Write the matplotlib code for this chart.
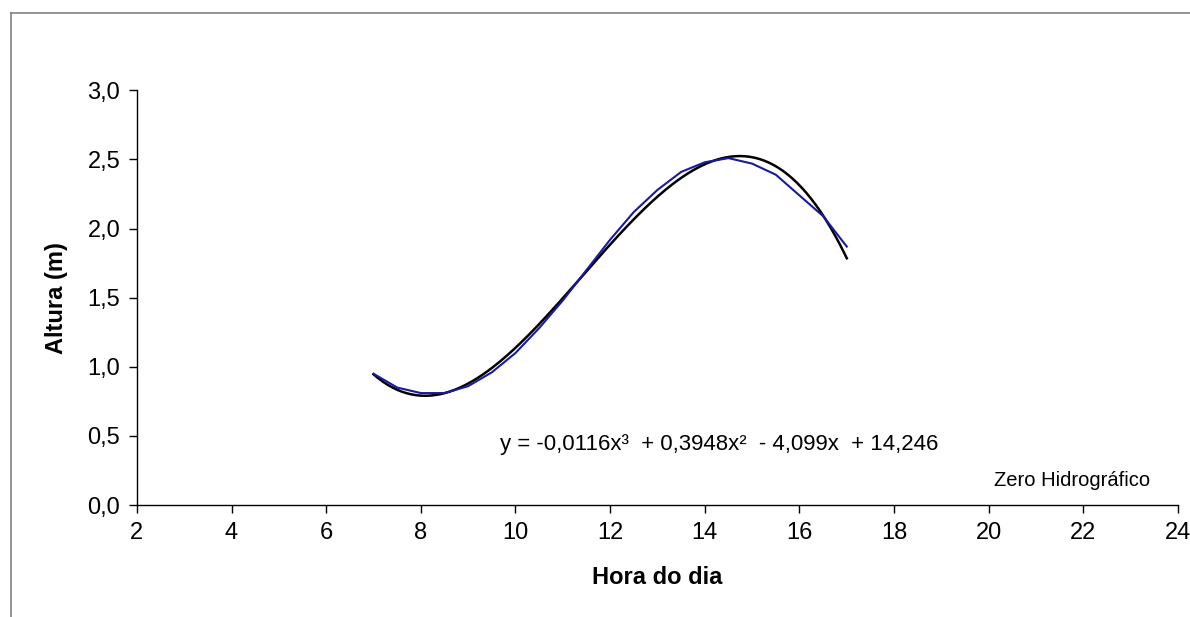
import numpy as np
import matplotlib
matplotlib.use("Agg")
import matplotlib.pyplot as plt
from matplotlib.lines import Line2D

# Dados observados (hora, altura)
hora = [7, 7.5, 8, 8.5, 9, 9.5, 10, 10.5, 11, 11.5, 12, 12.5, 13, 13.5, 14, 14.5, 15, 15.5, 16, 16.5, 17]
altura = [0.95, 0.85, 0.81, 0.81, 0.86, 0.96, 1.10, 1.28, 1.48, 1.70, 1.92, 2.12, 2.28, 2.41, 2.48, 2.51,
          2.47, 2.39, 2.24, 2.09, 1.87]

x_ticks = [2, 4, 6, 8, 10, 12, 14, 16, 18, 20, 22, 24]
y_ticks = [0.0, 0.5, 1.0, 1.5, 2.0, 2.5, 3.0]

equacao = "y = -0,0116x³  + 0,3948x²  - 4,099x  + 14,246"

plt.rcParams["font.family"] = ["Liberation Sans", "DejaVu Sans"]

fig = plt.figure(figsize=(11.9, 6.17), dpi=100)
ax = fig.add_axes([0.115, 0.1815, 0.875, 0.672])

# linha de tendência polinomial (3a ordem), como no Excel
coef = np.polyfit(hora, altura, 3)
xs = np.linspace(min(hora), max(hora), 200)
ax.plot(xs, np.polyval(coef, xs), color="black", linewidth=1.8)
ax.plot(hora, altura, color="#1a1aa0", linewidth=1.5)

ax.set_xlim(2, 24)
ax.set_ylim(0, 3)
ax.set_xticks(x_ticks)
ax.set_yticks(y_ticks)
ax.set_yticklabels([f"{v:.1f}".replace(".", ",") for v in y_ticks])
ax.tick_params(direction="out", length=6, width=1, labelsize=17, pad=6)

for s in ["top", "right"]:
    ax.spines[s].set_visible(False)
for s in ["left", "bottom"]:
    ax.spines[s].set_linewidth(1)

ax.set_xlabel("Hora do dia", fontsize=17, fontweight="bold", labelpad=16)
ax.set_ylabel("Altura (m)", fontsize=17, fontweight="bold", labelpad=14)

ax.text(9.67, 0.44, equacao, fontsize=16, va="center", ha="left")
ax.text(23.4, 0.175, "Zero Hidrográfico", fontsize=14.5, va="center", ha="right")

# moldura cinzenta do gráfico
fig.add_artist(Line2D([11 / 1190, 1], [1 - 13 / 617, 1 - 13 / 617], color="#808080", linewidth=1.2))
fig.add_artist(Line2D([11 / 1190, 11 / 1190], [0, 1 - 13 / 617], color="#808080", linewidth=1.2))

fig.savefig("out.png", dpi=100)
